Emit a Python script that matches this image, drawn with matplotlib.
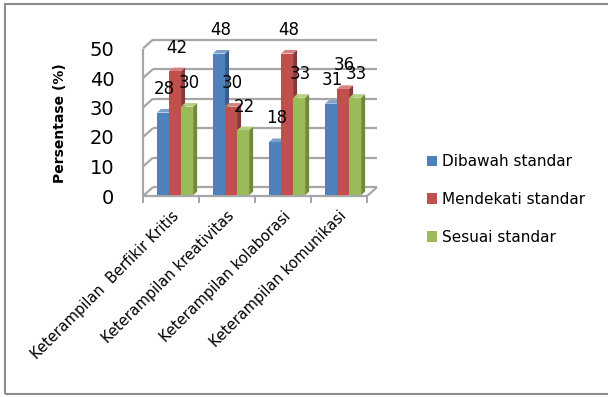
import matplotlib
matplotlib.use("Agg")
import matplotlib.pyplot as plt
from matplotlib.patches import Polygon, Rectangle

categories = ["Keterampilan  Berfikir Kritis", "Keterampilan kreativitas",
              "Keterampilan kolaborasi", "Keterampilan komunikasi"]
series_names = ["Dibawah standar", "Mendekati standar", "Sesuai standar"]
dibawah = [28, 48, 18, 31]
mendekati = [42, 30, 48, 36]
sesuai = [30, 22, 33, 33]
yticks = [0, 10, 20, 30, 40, 50]

values = [dibawah, mendekati, sesuai]
front_c = ["#4F81BD", "#C0504D", "#9BBB59"]
side_c = ["#385D8A", "#8C3836", "#71893F"]
top_c = ["#7BA0CD", "#D3807E", "#B5CE84"]

FONT = "DejaVu Sans"
W, H = 608, 397
fig = plt.figure(figsize=(W / 100, H / 100), dpi=100)

# axes placed in pixel terms
axl, axr, axt, axb = 120, 400, 30, 200
ax = fig.add_axes([axl / W, (H - axb) / H, (axr - axl) / W, (axb - axt) / H])
PX = 56.0   # px per category
PY = 2.95   # px per value unit
ax.set_xlim((axl - 143) / PX, (axr - 143) / PX)
ax.set_ylim(-(axb - 196) / PY, (196 - axt) / PY)
for s in ax.spines.values():
    s.set_visible(False)
ax.set_facecolor("none")

WDX, WDY = 10 / PX, 3.0      # wall depth
grid_kw = dict(color="#A6A6A6", lw=1.6, solid_capstyle="butt", zorder=1)
n = len(categories)
# back wall gridlines and left wall diagonals
for v in yticks:
    ax.plot([WDX, n + WDX], [v + WDY, v + WDY], **grid_kw)
    ax.plot([0, WDX], [v, v + WDY], **grid_kw)
ax.plot([0, 0], [0, yticks[-1]], **grid_kw)
# floor
ax.plot([0, n], [0, 0], **grid_kw)
ax.plot([n, n + WDX], [0, WDY], **grid_kw)
# x tick marks
for i in range(n + 1):
    ax.plot([i, i], [0, -6 / PY], color="#A6A6A6", lw=1.4, clip_on=False, zorder=1)

# bars
BW = 0.215
X0 = 0.25
BASE = 0.3
BDX, BDY = 4 / PX, 1.2
for i in range(n):
    for j in range(3):
        v = values[j][i]
        x0 = i + X0 + j * BW
        x1 = x0 + BW
        y0, y1 = BASE, BASE + v
        ax.add_patch(Polygon([(x1, y0), (x1 + BDX, y0 + BDY), (x1 + BDX, y1 + BDY), (x1, y1)],
                             closed=True, fc=side_c[j], ec="none", zorder=3))
        ax.add_patch(Polygon([(x0, y1), (x0 + BDX, y1 + BDY), (x1 + BDX, y1 + BDY), (x1, y1)],
                             closed=True, fc=top_c[j], ec="none", zorder=3))
        ax.add_patch(Rectangle((x0, y0), BW, v, fc=front_c[j], ec="none", zorder=3))
        ax.text(x0 + BW / 2 + 0.03, y1 + 8.0, str(v), ha="center", va="center",
                fontsize=12, family=FONT, color="black", zorder=5)

# y tick labels
ax.set_yticks(yticks)
ax.set_yticklabels([str(t) for t in yticks], fontsize=14, family=FONT)
ax.tick_params(axis="y", length=0, pad=4)
# x tick labels
ax.set_xticks([i + 0.5 for i in range(n)])
ax.set_xticklabels(categories, rotation=45, ha="right", rotation_mode="anchor",
                   fontsize=10.5, family=FONT)
ax.tick_params(axis="x", length=0, pad=6)
for lab in ax.get_xticklabels():
    lab.set_va("top")

ax.set_ylabel("Persentase (%)", fontsize=10, fontweight="bold", family=FONT)
ax.yaxis.set_label_coords((67 - axl) / (axr - axl), (axb - 123) / (axb - axt))

# legend
handles = [Rectangle((0, 0), 1, 1, fc=c, ec="none") for c in front_c]
leg = fig.legend(handles, series_names, loc="upper left",
                 bbox_to_anchor=(427 / W, (H - 154) / H), frameon=False,
                 prop={"family": FONT, "size": 11}, handlelength=0.65, handleheight=0.65,
                 handletextpad=0.33, labelspacing=1.5, borderpad=0, borderaxespad=0)

# outer border
fig.add_artist(Rectangle((5 / W, (H - 394) / H), (W + 10) / W, 390 / H, transform=fig.transFigure,
                         fill=False, ec="#8C8C8C", lw=1.5))

fig.savefig("out.png", dpi=100)
